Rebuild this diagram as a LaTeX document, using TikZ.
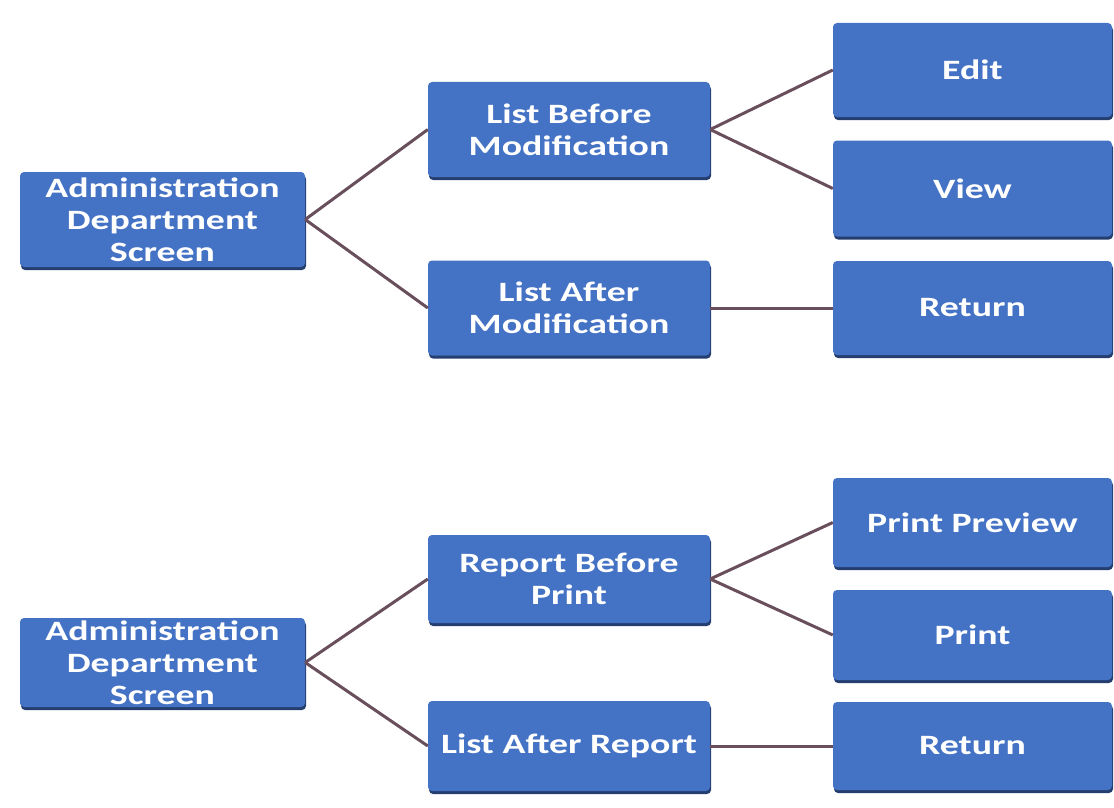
\documentclass[tikz,border=0pt]{standalone}
\usepackage{fontspec}
\newfontfamily\boxfont[FakeStretch=1.35]{Carlito}
\usetikzlibrary{shadows}
\definecolor{boxblue}{RGB}{68,114,196}
\definecolor{boxedge}{RGB}{36,62,112}
\definecolor{linkcol}{RGB}{105,78,92}
\begin{document}
\begin{tikzpicture}[x=1pt,y=-1pt,
  box/.style={fill=boxblue, rounded corners=4pt, text=white, align=center, inner sep=0pt,
    font=\boxfont\bfseries\fontsize{28}{32}\selectfont,
    general shadow={fill=boxedge, shadow yshift=-3pt, shadow xshift=1pt}},
  lbox/.style={box, minimum width=285pt},
  mbox/.style={box, minimum width=282pt},
  rbox/.style={box, minimum width=279pt},
  link/.style={draw=linkcol, line width=3pt}]
\useasboundingbox (0,0) rectangle (1114,808);
% top diagram
\node[lbox, minimum height=95pt] (a1) at (162.5,219.5) {Administration\\Department\\Screen};
\node[mbox, minimum height=95pt] (b1) at (569,129.5) {List Before\\Modification};
\node[mbox, minimum height=95pt] (b2) at (569,308) {List After\\Modification};
\node[rbox, minimum height=94pt] (c1) at (972.5,70) {Edit};
\node[rbox, minimum height=96pt] (c2) at (972.5,188.5) {View};
\node[rbox, minimum height=94pt] (c3) at (972.5,308) {Return};
\draw[link] (a1.east) -- (b1.west);
\draw[link] (a1.east) -- (b2.west);
\draw[link] (b1.east) -- (c1.west);
\draw[link] (b1.east) -- (c2.west);
\draw[link] (b2.east) -- (c3.west);
% bottom diagram
\node[lbox, minimum height=89pt] (a2) at (162.5,662.5) {Administration\\Department\\Screen};
\node[mbox, minimum height=88pt] (d1) at (569,579) {Report Before\\Print};
\node[mbox, minimum height=90pt] (d2) at (569,746) {List After Report};
\node[rbox, minimum height=89pt] (e1) at (972.5,522.5) {Print Preview};
\node[rbox, minimum height=90pt] (e2) at (972.5,635) {Print};
\node[rbox, minimum height=88pt] (e3) at (972.5,746) {Return};
\draw[link] (a2.east) -- (d1.west);
\draw[link] (a2.east) -- (d2.west);
\draw[link] (d1.east) -- (e1.west);
\draw[link] (d1.east) -- (e2.west);
\draw[link] (d2.east) -- (e3.west);
\end{tikzpicture}
\end{document}
